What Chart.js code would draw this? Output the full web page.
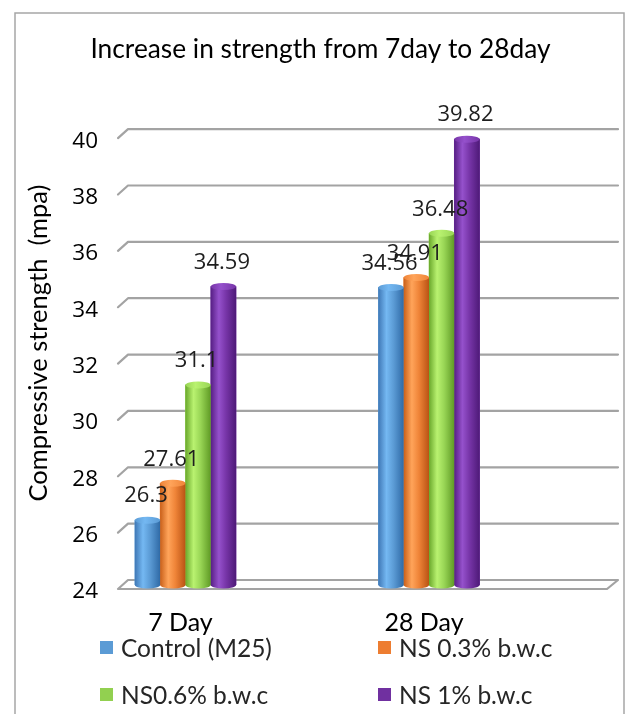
<!DOCTYPE html>
<html>
<head>
<meta charset="utf-8">
<title>Increase in strength from 7day to 28day</title>
<script src="https://cdn.jsdelivr.net/npm/chart.js@4.4.1/dist/chart.umd.min.js"></script>
<style>
  html, body { margin: 0; padding: 0; background: #ffffff; }
  #wrap { position: relative; width: 625px; height: 714px; overflow: hidden; }
  #c { position: absolute; left: 0; top: 0; }
  #legend { position: absolute; left: 0; top: 0; width: 625px; height: 714px; pointer-events: none;
            font-family: Lato, "Open Sans", sans-serif; font-size: 24.5px; color: #262626; }
  .item { position: absolute; display: flex; align-items: center; height: 26px; white-space: nowrap; }
  .swatch { width: 13px; height: 13px; margin-right: 8px; flex: none; }
</style>
</head>
<body>
<div id="wrap">
  <canvas id="c" width="625" height="714"></canvas>
  <div id="legend"></div>
</div>
<script>
// ---- data ----
const categories = ['7 Day', '28 Day'];
const controlM25 = [26.3, 34.56];
const ns03 = [27.61, 34.91];
const ns06 = [31.1, 36.48];
const ns1 = [34.59, 39.82];
const seriesNames = ['Control (M25)', 'NS 0.3% b.w.c', 'NS0.6% b.w.c', 'NS 1% b.w.c'];
const seriesValues = [controlM25, ns03, ns06, ns1];
const yMin = 24, yTopTick = 40, yStep = 2;

// ---- styling ----
const seriesColors = ['#5b9bd5', '#ed7d31', '#92d050', '#7030a0'];
const cylinderShades = [
  { edge: '#3f78b6', light: '#74b8f2', mid: '#5b9bd5', deep: '#2f6aa6' },
  { edge: '#c9601a', light: '#ffa45a', mid: '#ef8438', deep: '#b95314' },
  { edge: '#6aa82c', light: '#b9f270', mid: '#98d555', deep: '#5f9a25' },
  { edge: '#571f85', light: '#9551cc', mid: '#7735a8', deep: '#4e1a78' }
];
const gridColor = '#a3a3a3';
const depth = { dx: 10, back: -5, front: 4 };   // oblique wall / floor offsets

// Oblique back-wall gridlines and the floor plate
const wallPlugin = {
  id: 'wall',
  beforeDraw(chart) {
    const ctx = chart.ctx;
    ctx.save();
    ctx.fillStyle = '#ffffff';
    ctx.fillRect(0, 0, chart.width, chart.height);
    ctx.strokeStyle = '#a6a6a6';
    ctx.lineWidth = 1.5;
    ctx.strokeRect(15, 13, 609, chart.height + 20);
    ctx.restore();
  },
  beforeDatasetsDraw(chart) {
    const ctx = chart.ctx;
    const { left, right } = chart.chartArea;
    const ys = chart.scales.y;
    ctx.save();
    ctx.lineCap = 'round';
    ctx.lineJoin = 'round';
    ctx.strokeStyle = gridColor;
    ctx.lineWidth = 2.2;
    ys.ticks.forEach(t => {
      const y = ys.getPixelForValue(t.value);
      if (t.value === yMin) {
        // floor plate
        ctx.beginPath();
        ctx.moveTo(left + depth.dx, y + depth.back);
        ctx.lineTo(right, y + depth.back);
        ctx.lineTo(right - depth.dx - 1, y + depth.front);
        ctx.lineTo(left, y + depth.front);
        ctx.closePath();
        ctx.fillStyle = '#ffffff';
        ctx.fill();
        ctx.stroke();
      } else {
        ctx.beginPath();
        ctx.moveTo(left, y + depth.front);
        ctx.lineTo(left + depth.dx, y + depth.back);
        ctx.lineTo(right, y + depth.back);
        ctx.stroke();
      }
    });
    ctx.restore();
  },
  afterDatasetsDraw(chart) {
    const ctx = chart.ctx;
    ctx.save();
    // shaded cylinders over each bar element
    chart.data.datasets.forEach((ds, di) => {
      const shade = cylinderShades[di];
      chart.getDatasetMeta(di).data.forEach(el => {
        const x = el.x, y = el.y, base = el.base, w = el.width;
        const x0 = x - w / 2, x1 = x + w / 2, ry = 3.5;
        const g = ctx.createLinearGradient(x0, 0, x1, 0);
        g.addColorStop(0, shade.edge);
        g.addColorStop(0.32, shade.light);
        g.addColorStop(0.6, shade.mid);
        g.addColorStop(1, shade.deep);
        ctx.fillStyle = g;
        ctx.beginPath();
        ctx.moveTo(x0, y);
        ctx.lineTo(x0, base);
        ctx.ellipse(x, base, w / 2, ry, 0, Math.PI, 0, true);
        ctx.lineTo(x1, y);
        ctx.closePath();
        ctx.fill();
        const gc = ctx.createLinearGradient(x0, 0, x1, 0);
        gc.addColorStop(0, shade.mid);
        gc.addColorStop(0.4, shade.light);
        gc.addColorStop(1, shade.mid);
        ctx.fillStyle = gc;
        ctx.beginPath();
        ctx.ellipse(x, y, w / 2, ry, 0, 0, Math.PI * 2);
        ctx.fill();
      });
    });
    // value labels above each bar
    ctx.font = '22px "Open Sans", sans-serif';
    ctx.fillStyle = '#1e1e1e';
    ctx.textAlign = 'center';
    ctx.textBaseline = 'middle';
    chart.data.datasets.forEach((ds, di) => {
      chart.getDatasetMeta(di).data.forEach((el, i) => {
        ctx.fillText(String(ds.data[i]), el.x - 1.5, el.y - 24);
      });
    });
    ctx.restore();
  }
};

const chart = new Chart(document.getElementById('c'), {
  type: 'bar',
  data: {
    labels: categories.map((_, i) => i),
    datasets: seriesNames.map((name, i) => ({
      label: name,
      data: seriesValues[i],
      base: yMin,
      backgroundColor: seriesColors[i],
      borderWidth: 0,
      barThickness: 25.3
    }))
  },
  options: {
    responsive: false,
    animation: false,
    devicePixelRatio: 1,
    layout: { padding: { left: 23, right: 7, top: 14, bottom: 69 } },
    plugins: {
      legend: { display: false },
      tooltip: { enabled: false },
      title: {
        display: true,
        text: 'Increase in strength from 7day to 28day',
        color: '#000000',
        font: { family: 'Lato', size: 26.3, weight: 'normal', lineHeight: 1.2 },
        padding: { top: 19.5, bottom: 36.1 }
      }
    },
    scales: {
      x: {
        type: 'linear',
        offset: false,
        min: -0.277,
        max: 1.776,
        grid: { display: false, drawTicks: false, offset: false },
        border: { display: false },
        afterBuildTicks: s => { s.ticks = categories.map((_, i) => ({ value: i })); },
        afterFit: s => { s.height = 60; },
        ticks: {
          autoSkip: false,
          maxRotation: 0,
          padding: 23,
          labelOffset: -5,
          color: '#000000',
          font: { family: 'Lato', size: 25 },
          callback: v => categories[v] ?? ''
        }
      },
      y: {
        min: yMin,
        max: yTopTick + 1.17,
        grid: { display: false, drawTicks: false },
        border: { display: false },
        afterFit: s => { s.width = 95; },
        ticks: {
          stepSize: yStep,
          includeBounds: false,
          padding: 20,
          labelOffset: 7,
          color: '#000000',
          font: { family: '"Open Sans"', size: 22.5 }
        },
        title: {
          display: true,
          text: 'Compressive strength  (mpa)',
          color: '#000000',
          font: { family: 'Lato', size: 25.5 },
          padding: { top: 0, bottom: 0 }
        }
      }
    }
  },
  plugins: [wallPlugin]
});

// two-column legend under the plot
const legendCols = [100, 378];
const legendRows = [647, 694.5];
const legendEl = document.getElementById('legend');
seriesNames.forEach((name, i) => {
  const item = document.createElement('div');
  item.className = 'item';
  item.style.left = legendCols[i % 2] + 'px';
  item.style.top = (legendRows[Math.floor(i / 2)] - 13) + 'px';
  const sw = document.createElement('span');
  sw.className = 'swatch';
  sw.style.background = seriesColors[i];
  const tx = document.createElement('span');
  tx.textContent = name;
  item.appendChild(sw);
  item.appendChild(tx);
  legendEl.appendChild(item);
});
</script>
</body>
</html>
